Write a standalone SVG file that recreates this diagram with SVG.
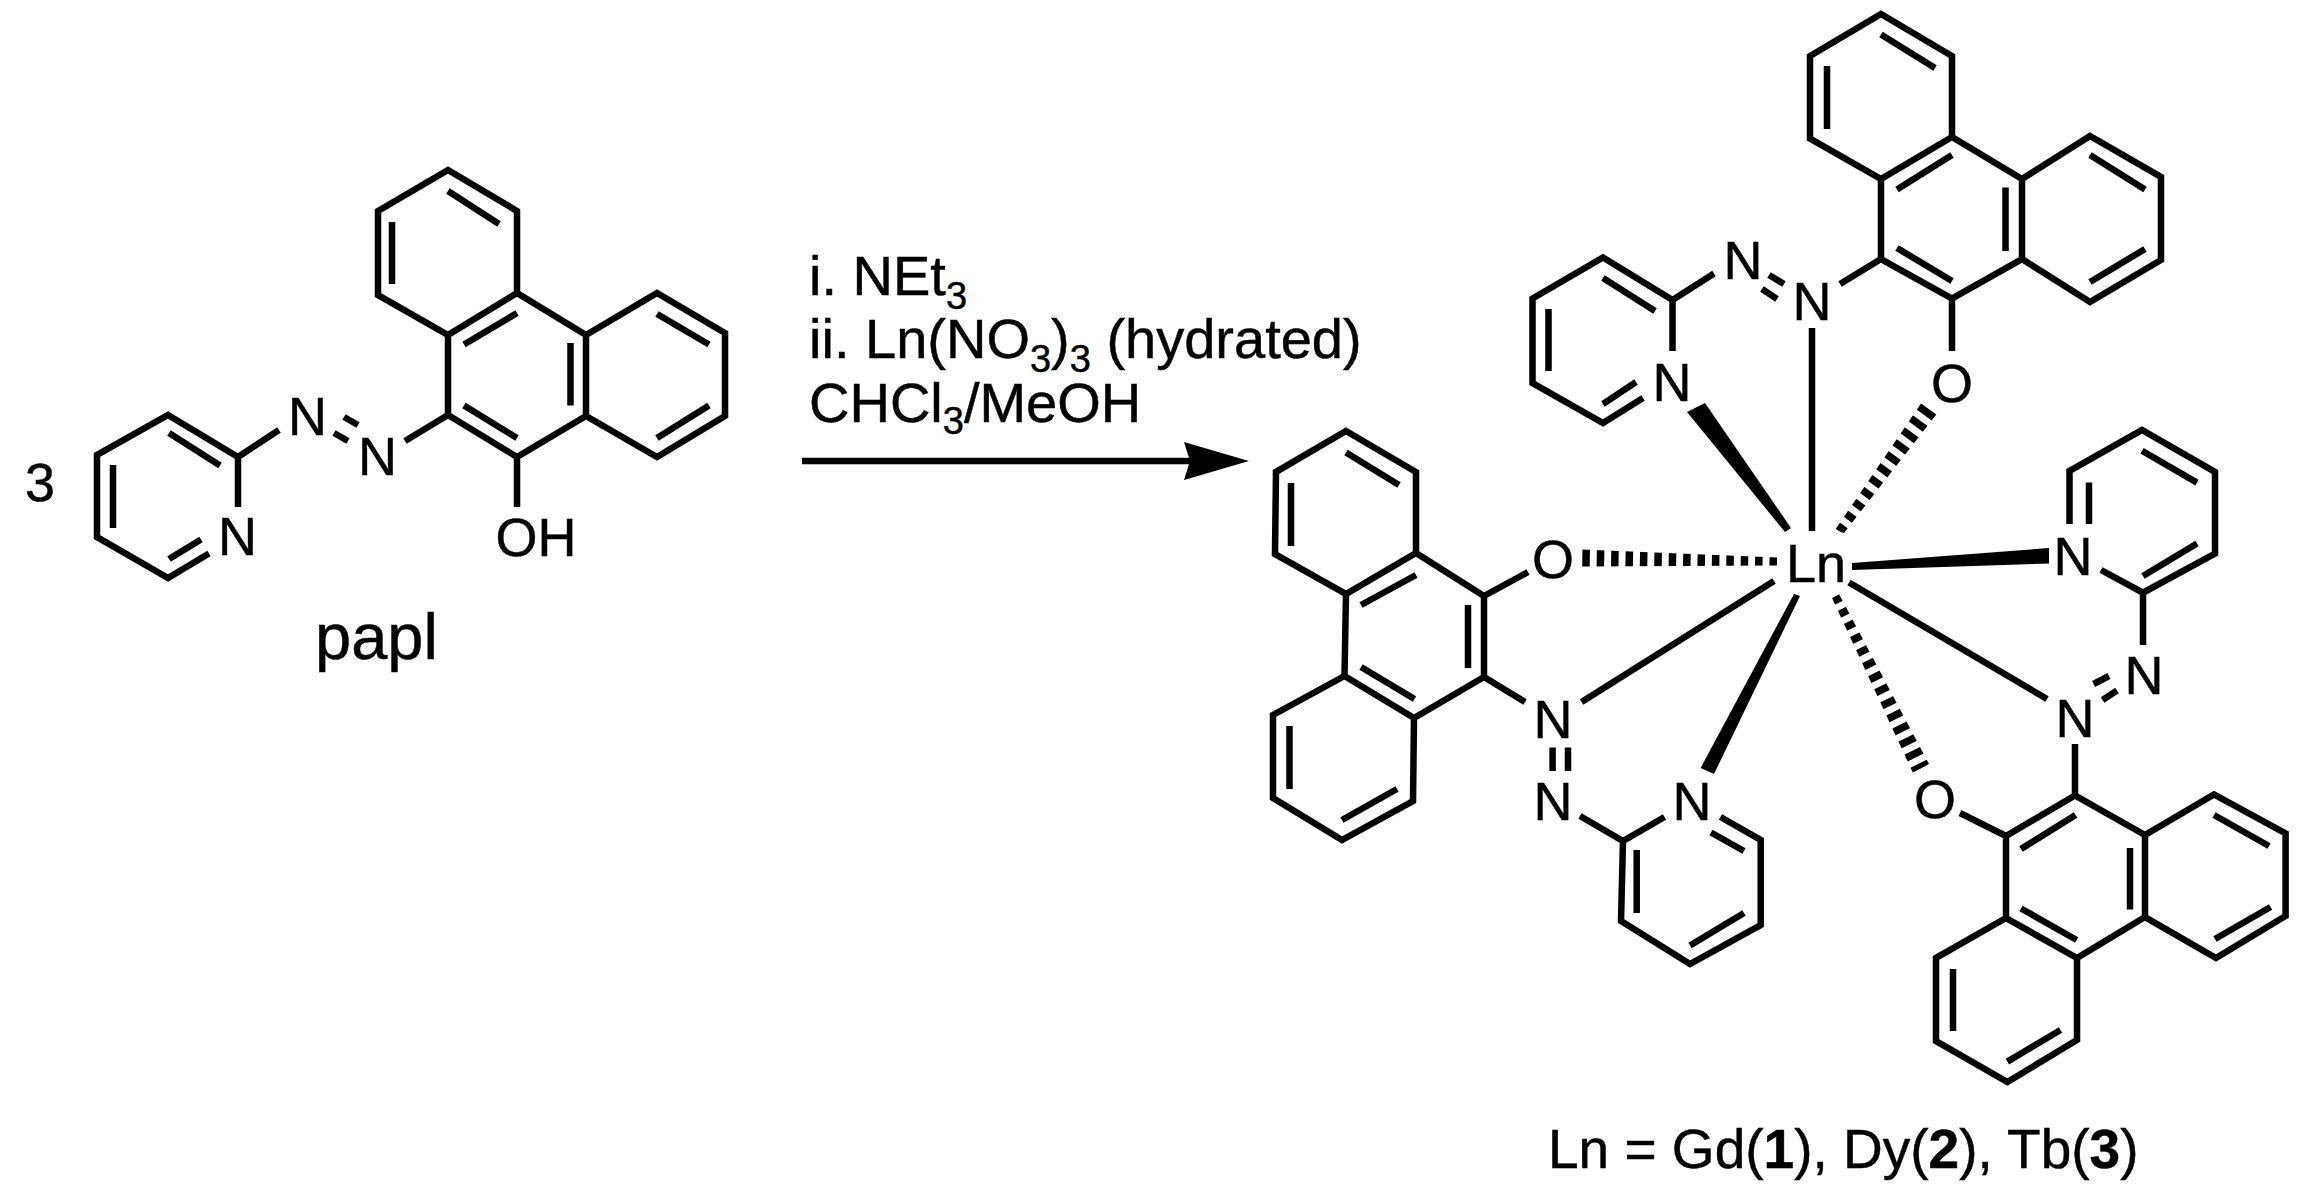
<svg xmlns="http://www.w3.org/2000/svg" width="2313" height="1195" viewBox="0 0 2313 1195">
<style>
.b{fill:none;stroke:#000;stroke-width:6.5;stroke-linejoin:miter;stroke-miterlimit:4;stroke-linecap:butt}
.k{fill:#000;stroke:none}
text{font-family:"Liberation Sans",Arial,sans-serif;fill:#000;stroke:#000;stroke-width:.5}
.a{font-size:54px;text-anchor:middle}
.r{font-size:56px}
.s{font-size:38px}
.d{stroke:#fff;stroke-width:70;stroke-dasharray:7.5 6.9;fill:none}
</style>
<defs>
<marker id="head" markerUnits="userSpaceOnUse" markerWidth="70" markerHeight="50" refX="6" refY="25" orient="auto"><path d="M0 6L6 25L0 44L65 25Z" fill="#000"/></marker>
<mask id="h1" maskUnits="userSpaceOnUse" x="0" y="0" width="2313" height="1195"><line class="d" x1="1777" y1="561.5" x2="1582" y2="558"/></mask>
<mask id="h2" maskUnits="userSpaceOnUse" x="0" y="0" width="2313" height="1195"><line class="d" x1="1839.5" y1="531.5" x2="1930.5" y2="406.5"/></mask>
<mask id="h3" maskUnits="userSpaceOnUse" x="0" y="0" width="2313" height="1195"><line class="d" x1="1835.5" y1="596" x2="1921" y2="768.5"/></mask>
</defs>
<g id="coefficient"><text class="a" x="40" y="501">3</text></g>
<g id="papl">
<path class="b" d="M448 170L517 211L517 293L448 335L378 295L378 211ZM517 293L586 335L586 416L517 457L448 415L448 335M586 335L657 293L725 333L725 416L657 457L586 416M517 457L517 507M448 415L405 441M238 457L279 430M238 457L168 415L97 455L97 537L168 578L209 553.5M238 457L238 507"/>
<path class="b" d="M448 191L499 224M392 222L392 284M464 344.5L517 313M570.5 343L570.5 405.5M464 405.5L517 438M657 314L709 344.5M709 405.5L657 438M169 433L220 465.5M113 465L113 528M169 559L201 539.5M334 433L348 441M344 417L358 425"/>
<text class="a" x="237.5" y="555">N</text>
<text class="a" x="307.5" y="435">N</text>
<text class="a" x="377.5" y="475">N</text>
<text class="a" x="536" y="556">OH</text>
<text x="315" y="659" font-size="65">papl</text>
</g>
<g id="conditions">
<text class="r" x="809" y="295">i. NEt<tspan class="s" dy="14">3</tspan></text>
<text class="r" x="809" y="358">ii. Ln(NO<tspan class="s" dy="14">3</tspan><tspan dy="-14">)</tspan><tspan class="s" dy="14">3</tspan><tspan dy="-14"> (hydrated)</tspan></text>
<text class="r" x="809" y="422">CHCl<tspan class="s" dy="12">3</tspan><tspan dy="-12">/MeOH</tspan></text>
</g>
<g id="ligand-top">
<path class="b" d="M1881 14L1952 56L1952 137L1881 179L1810 138.5L1810 56ZM1952 137L2022 179L2022 259L1952 298.5L1881 259L1881 179M2022 179L2090 136L2161 177L2161 260L2090 302L2022 259M1952 298.5L1952 351M1881 259L1840 284M1672.5 300L1714 273.6M1672.5 300L1603 257.5L1532.5 298.5L1532.5 383L1603 423L1643 398M1672.5 300L1672.5 351"/>
<path class="b" d="M1881 34.5L1935 68M1827 66L1827 129M1897 189.5L1952 155M2005.5 187.5L2005.5 251M1897 248L1952 281M2090 155L2145 189.5M2145 249L2090 282M1603 278L1655 311M1548.5 309L1548.5 371M1603 404L1636 382M1762 289L1777 299M1769 275L1784 284"/>
<text class="a" x="1743" y="279">N</text>
<text class="a" x="1812" y="320">N</text>
<text class="a" x="1672" y="401">N</text>
<text class="a" x="1952" y="402">O</text>
</g>
<g id="ligand-left">
<path class="b" d="M1346 431L1416 472L1416 553L1346 594L1275 554L1276 472ZM1416 553L1484 596L1484 677L1414 718L1344.5 676L1346 594M1344.5 676L1273 715L1273 798L1342 840L1413 801L1414 718M1484 596L1528 572M1484 677L1525 702M1580 816L1623 841L1664.5 817M1623 841L1621 921L1690 964L1760.7 925L1760.7 840L1720.5 817"/>
<path class="b" d="M1346 452.5L1399 485M1291 483L1291 546M1361 605L1416 575M1468 605L1468 668M1361 667L1414.5 699M1289.5 726L1289.5 789M1342 820L1397 789M1636.7 850L1636.7 913M1690 945.5L1744 913M1744 851L1711 832.5M1552.6 747.5L1552.6 771M1568 747.5L1568 771"/>
<text class="a" x="1553" y="578">O</text>
<text class="a" x="1553" y="738">N</text>
<text class="a" x="1553" y="820">N</text>
<text class="a" x="1692" y="820">N</text>
</g>
<g id="ligand-right">
<path class="b" d="M2069.5 524L2069.5 471L2142 430L2215 472L2215 553.6L2143 592.7L2101 570M2143 592.7L2143 645M2075 744L2075 795.5M1960 813L2006 836L2075 795.5L2145 835L2214 794.5L2285.6 833.5L2285.6 916L2216 958L2145 917L2145 835M2006 836L2006 918L2077 958L2145 917M2006 918L1936 958L1936 1041L2007.4 1082L2077 1040L2077 958"/>
<path class="b" d="M2089 482.6L2089 524M2142 450.7L2197 482.6M2197 543.5L2143 576M2093.6 684L2109 676M2102.6 700L2117 690.5M2021 849L2075.6 815M2130 848L2130 909.5M2021 908.5L2076.7 940M2214 815L2269 846M2215 939L2270.6 907M1953 969L1953 1031M2007.4 1061.6L2060.5 1030"/>
<text class="a" x="2073" y="575">N</text>
<text class="a" x="2144" y="694">N</text>
<text class="a" x="2075" y="737">N</text>
<text class="a" x="1935" y="818">O</text>
</g>
<g id="metal"><text x="1786" y="582" font-size="54">Ln</text></g>
<g id="connectors">
<line class="b" x1="802" y1="461" x2="1190" y2="461" marker-end="url(#head)"/>
<polygon class="k" points="1687,412 1705,403 1791,528 1785,532"/>
<polygon class="k" points="1700.6,768 1714,774 1800,596 1794,594"/>
<polygon class="k" points="1852,563 2049,548 2049,563.5 1852,570"/>
<line class="b" x1="1812" y1="328" x2="1812" y2="531"/>
<line class="b" x1="1581.6" y1="702" x2="1774" y2="581"/>
<line class="b" x1="1849" y1="582.5" x2="2047" y2="699"/>
<polygon class="k" mask="url(#h1)" points="1582,549.5 1582,566.5 1777,565.5 1777,557.5"/>
<polygon class="k" mask="url(#h2)" points="1835,530 1844,533 1939,411 1922,402"/>
<polygon class="k" mask="url(#h3)" points="1832,598 1839,594 1929,764 1913,773"/>
</g>
<g id="caption"><text x="1548" y="1168" font-size="55">Ln = Gd(<tspan font-weight="bold">1</tspan>), Dy(<tspan font-weight="bold">2</tspan>), Tb(<tspan font-weight="bold">3</tspan>)</text></g>
</svg>
